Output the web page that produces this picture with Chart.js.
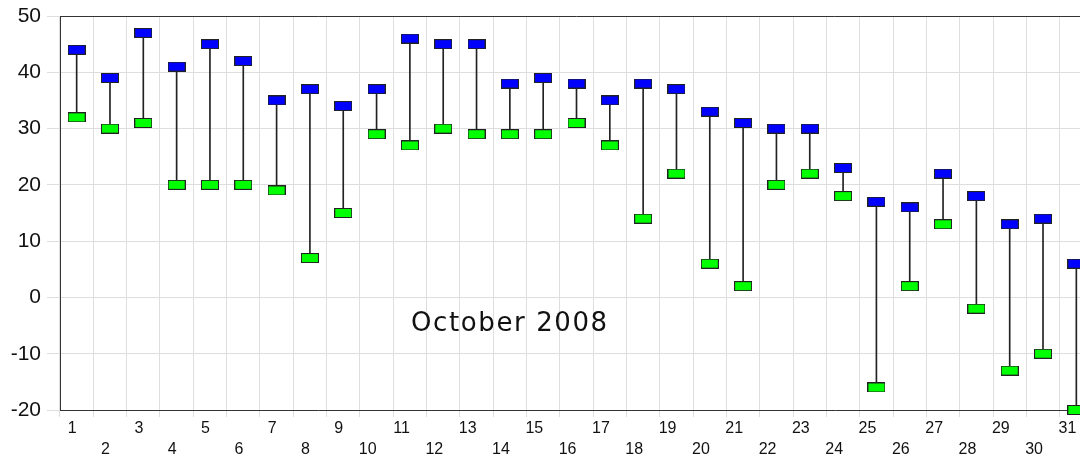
<!DOCTYPE html>
<html>
<head>
<meta charset="utf-8">
<script src="https://cdn.jsdelivr.net/npm/chart.js@4/dist/chart.umd.min.js"></script>
<style>
  html, body { margin: 0; padding: 0; background: #fff; overflow: hidden; }
</style>
</head>
<body>
<canvas id="chart" width="1100" height="458"></canvas>
<script>
// daily high / low, October 2008
const days = ['1','2','3','4','5','6','7','8','9','10','11','12','13','14','15','16',
              '17','18','19','20','21','22','23','24','25','26','27','28','29','30','31'];
const highs = [44,39,47,41,45,42,35,37,34,37,46,45,45,38,39,38,35,38,37,33,31,30,30,23,17,16,22,18,13,14,6];
const lows  = [32,30,31,20,20,20,19,7,15,29,27,30,29,29,29,31,27,14,22,6,2,20,22,18,-16,2,13,-2,-13,-10,-20];
const yMin = -20, yMax = 50;
const caption = 'October 2008';

// little rectangle markers
function marker(fill) {
  let c = document.createElement('canvas');
  c.width = 18; c.height = 10;
  let g = c.getContext('2d');
  g.fillStyle = fill;
  g.fillRect(0.5, 0.5, 17, 9);
  g.strokeStyle = '#222';
  g.lineWidth = 1;
  g.strokeRect(0.5, 0.5, 17, 9);
  return c;
}

const captionPlugin = {
  id: 'caption',
  afterDatasetsDraw(chart) {
    let ctx = chart.ctx;
    let xs = chart.scales.x, ys = chart.scales.y;
    ctx.save();
    // top border
    ctx.strokeStyle = '#333';
    ctx.lineWidth = 1;
    ctx.beginPath();
    ctx.moveTo(chart.chartArea.left, Math.round(chart.chartArea.top) + 0.5);
    ctx.lineTo(chart.chartArea.right, Math.round(chart.chartArea.top) + 0.5);
    ctx.stroke();
    ctx.font = '26px "DejaVu Sans"';
    ctx.letterSpacing = '1.6px';
    ctx.fillStyle = '#111';
    ctx.textAlign = 'center';
    ctx.textBaseline = 'middle';
    ctx.fillText(caption, xs.getPixelForValue(13), ys.getPixelForValue(-4.8));
    ctx.restore();
  }
};

new Chart(document.getElementById('chart'), {
  type: 'bar',
  data: {
    labels: days,
    datasets: [
      {
        type: 'bar',
        data: lows.map((l, i) => [l, highs[i]]),
        backgroundColor: '#222',
        barThickness: 1,
        grouped: false,
        order: 3
      },
      {
        type: 'line',
        data: highs,
        showLine: false,
        pointStyle: marker('#0000ff'),
        clip: false,
        order: 1
      },
      {
        type: 'line',
        data: lows,
        showLine: false,
        pointStyle: marker('#00ff00'),
        clip: false,
        order: 2
      }
    ]
  },
  options: {
    responsive: false,
    animation: false,
    events: [],
    layout: { padding: { top: 16, right: 7, left: 0, bottom: 0 } },
    plugins: { legend: { display: false }, tooltip: { enabled: false } },
    scales: {
      x: {
        offset: true,
        grid: { color: '#dedede', offset: true, tickLength: 7 },
        border: { color: '#333' },
        ticks: {
          color: '#111',
          font: { family: 'Liberation Sans', size: 16, lineHeight: 1.3 },
          padding: 1,
          align: 'end',
          maxRotation: 0,
          autoSkip: false,
          callback: function(v, i) {
            return i % 2 === 0 ? [days[i], ''] : ['', days[i]];
          }
        },
        afterFit(s) { s.height = 48; s.paddingLeft = 0; s.paddingRight = 0; }
      },
      y: {
        min: yMin,
        max: yMax,
        grid: { color: '#dedede', tickLength: 13 },
        border: { color: '#333' },
        ticks: {
          stepSize: 5,
          color: '#111',
          font: { family: 'Liberation Sans', size: 21 },
          padding: 6,
          callback: v => (v % 10 === 0 ? v : '')
        },
        afterFit(s) { s.width = 60; s.paddingTop = 0; s.paddingBottom = 0; }
      }
    }
  },
  plugins: [captionPlugin]
});
</script>
</body>
</html>
